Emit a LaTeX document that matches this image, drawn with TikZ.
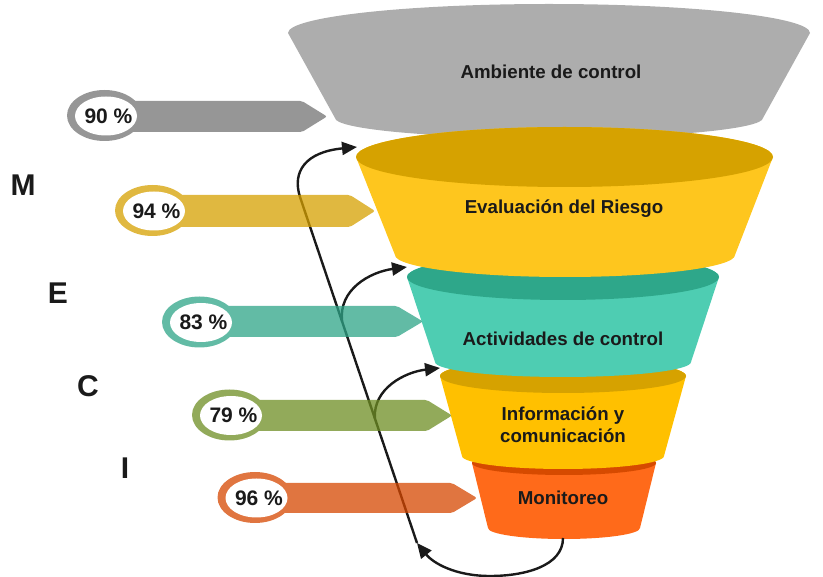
\documentclass[tikz,border=0pt]{standalone}
\usepackage{fontspec}
\setmainfont{Liberation Sans}
\usetikzlibrary{arrows.meta,calc}
\definecolor{txt}{HTML}{1A1A1A}
\definecolor{cgrey}{HTML}{ADADAD}
\definecolor{yBody}{HTML}{FEC61E}
\definecolor{yTop}{HTML}{D6A200}
\definecolor{tBody}{HTML}{4ECDB2}
\definecolor{tTop}{HTML}{2EA78A}
\definecolor{iBody}{HTML}{FFC000}
\definecolor{iTop}{HTML}{D6A200}
\definecolor{oBody}{HTML}{FF6A1A}
\definecolor{oTop}{HTML}{D64A00}
\definecolor{bGrey}{RGB}{115,115,115}
\definecolor{bYellow}{RGB}{214,160,0}
\definecolor{bTeal}{RGB}{46,164,135}
\definecolor{bGreen}{RGB}{110,142,35}
\definecolor{bOrange}{RGB}{214,71,0}
\newcommand\mybanner[9]{%
  \begin{scope}[transparency group, opacity=0.75]
    \fill[#1] (#2,#3) ellipse[x radius=37.5, y radius=25.5];
    \fill[#1, rounded corners=2pt] (#2,#4) -- (#6,#4) -- (#7,{(#4+#5)/2}) -- (#6,#5) -- (#2,#5) -- cycle;
  \end{scope}
  \fill[white] (#2+1.5,#3+0.5) ellipse[x radius=31, y radius=19.5];
  \node[pct] (#9) at (#2+4,#3+0.5) {#8};
}
\begin{document}
\begin{tikzpicture}[x=1pt,y=-1pt,
  lbl/.style={font=\fontsize{18.7}{22}\selectfont\bfseries, text=txt, align=center, inner sep=0pt},
  pct/.style={font=\fontsize{21}{24}\selectfont\bfseries, text=txt, inner sep=0pt},
  letter/.style={font=\fontsize{30}{32}\selectfont\bfseries, text=txt, inner sep=0pt},
  flow/.style={line width=2.4pt, draw=txt, -{Triangle[length=15pt,width=13pt]}}]
\useasboundingbox (0,0) rectangle (823,577);

% funnel
\fill[cgrey] (288,33) arc[start angle=180,end angle=360,x radius=261,y radius=29]
  -- (763,118) arc[start angle=0,end angle=180,x radius=214,y radius=20] -- cycle;

\fill[oBody] (472,463) -- (488,528) arc[start angle=180,end angle=0,x radius=76,y radius=11]
  -- (656,463) arc[start angle=0,end angle=-180,x radius=92,y radius=12] -- cycle;
\fill[oTop] (564,463) ellipse[x radius=92,y radius=12];

\fill[iBody] (440,376) -- (462,456) arc[start angle=180,end angle=0,x radius=101,y radius=13]
  -- (686,376) arc[start angle=0,end angle=-180,x radius=123,y radius=17] -- cycle;
\fill[iTop] (563,376) ellipse[x radius=123,y radius=17];

\fill[tBody] (407,277) -- (435,362) arc[start angle=180,end angle=0,x radius=128,y radius=15]
  -- (719,277) arc[start angle=0,end angle=-180,x radius=156,y radius=23] -- cycle;
\fill[tTop] (563,277) ellipse[x radius=156,y radius=23];

\fill[yBody] (356,157) -- (395,255) arc[start angle=180,end angle=0,x radius=170,y radius=22]
  -- (773,157) arc[start angle=0,end angle=-180,x radius=208.5,y radius=30] -- cycle;
\fill[yTop] (564.5,157) ellipse[x radius=208.5,y radius=30];

\node[lbl] (amb) at (551,72) {Ambiente de control};
\node[lbl] (eval) at (564,209) {Evaluación del Riesgo};
\node[lbl] (act) at (563,339) {Actividades de control};
\node[lbl] (info) at (563,425) {Información y\\comunicación};
\node[lbl] (mon) at (563,498) {Monitoreo};

% connectors
\coordinate (monB) at (563,538);
\coordinate (loopLow) at (490,576);
\coordinate (junc) at (417,543);
\coordinate (lineTop) at (300,197);
\coordinate (evalIn) at (357,147);
\coordinate (actIn) at (407,267);
\coordinate (infoIn) at (440,368);
\coordinate (actOut) at ($(junc)!0.64!(lineTop)$);
\coordinate (infoOut) at ($(junc)!0.36!(lineTop)$);

\draw[flow] (monB) .. controls +(0,28) and +(35,0) .. (loopLow) .. controls +(-35,0) and +(16,20) .. (junc);
\draw[flow] (junc) -- (lineTop) .. controls (292,172) and (305,152) .. (evalIn);
\draw[flow] (actOut) .. controls +(-4,-32) and (370,272) .. (actIn);
\draw[flow] (infoOut) .. controls +(-2,-30) and (405,372) .. (infoIn);

% banners
\mybanner{bGrey}{104.5}{115.5}{101}{132}{302}{327}{90 \%}{p90}
\mybanner{bYellow}{152.5}{210.5}{195}{227}{350}{375}{94 \%}{p94}
\mybanner{bTeal}{199.5}{322}{306}{337}{397}{423}{83 \%}{p83}
\mybanner{bGreen}{229.5}{415}{400}{431}{427}{452}{79 \%}{p79}
\mybanner{bOrange}{255}{497.5}{483}{513}{452}{477}{96 \%}{p96}

% letters
\node[letter] (lM) at (23,185) {M};
\node[letter] (lE) at (58,293) {E};
\node[letter] (lC) at (88,386) {C};
\node[letter] (lI) at (125,468) {I};
\end{tikzpicture}
\end{document}
